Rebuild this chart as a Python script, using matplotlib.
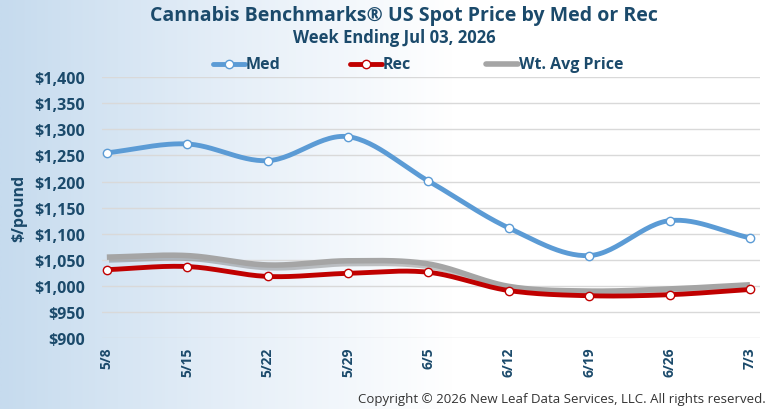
import numpy as np
import matplotlib
matplotlib.use("Agg")
import matplotlib.pyplot as plt
import matplotlib.patheffects as pe
from matplotlib.colors import LinearSegmentedColormap
from matplotlib.lines import Line2D

weeks = ["5/8", "5/15", "5/22", "5/29", "6/5", "6/12", "6/19", "6/26", "7/3"]
med = [1255, 1272, 1240, 1286, 1201, 1111, 1058, 1125, 1092]
rec = [1031, 1037, 1018, 1024, 1026, 991, 981, 983, 993]
wavg = [1055, 1058, 1040, 1048, 1042, 999, 990, 994, 1002]
yticks = [900, 950, 1000, 1050, 1100, 1150, 1200, 1250, 1300, 1350, 1400]
series_names = ["Med", "Rec", "Wt. Avg Price"]

NAVY = "#1b4a6b"
FONT = "Open Sans"
C_MED, C_REC, C_AVG = "#5b9bd5", "#c00000", "#a5a5a5"


def smooth(xs, ys, n=30):
    xs = np.asarray(xs, float)
    ys = np.asarray(ys, float)
    px = np.concatenate([[2 * xs[0] - xs[1]], xs, [2 * xs[-1] - xs[-2]]])
    py = np.concatenate([[2 * ys[0] - ys[1]], ys, [2 * ys[-1] - ys[-2]]])
    ox, oy = [], []
    t = np.linspace(0, 1, n, endpoint=False)

    def cr(a0, a1, a2, a3):
        return 0.5 * ((2 * a1) + (-a0 + a2) * t + (2 * a0 - 5 * a1 + 4 * a2 - a3) * t ** 2
                      + (-a0 + 3 * a1 - 3 * a2 + a3) * t ** 3)
    for i in range(1, len(px) - 2):
        ox.append(cr(px[i - 1], px[i], px[i + 1], px[i + 2]))
        oy.append(cr(py[i - 1], py[i], py[i + 1], py[i + 2]))
    ox.append([xs[-1]])
    oy.append([ys[-1]])
    return np.concatenate(ox), np.concatenate(oy)


fig = plt.figure(figsize=(7.8, 4.1), dpi=100)

# background gradient
bg = fig.add_axes([0, 0, 1, 1], zorder=-10)
cmap = LinearSegmentedColormap.from_list(
    "bg", [(0, "#c6dbee"), (0.3, "#e6eff8"), (0.58, "#ffffff"), (1, "#ffffff")])
grad = np.linspace(0, 1, 512)[None, :]
bg.imshow(grad, aspect="auto", cmap=cmap, extent=[0, 1, 0, 1], interpolation="bilinear")
bg.axis("off")

ax = fig.add_axes([0.1308, 0.1732, 0.843, 0.636])
ax.set_facecolor("none")
x = np.arange(len(weeks))

sx, sy = smooth(x, wavg)
ax.plot(sx, sy, color=C_AVG, lw=4.0, solid_capstyle="butt", zorder=3,
        path_effects=[pe.SimpleLineShadow(offset=(1.5, -2), shadow_color="#555555", alpha=0.35), pe.Normal()])
sx, sy = smooth(x, rec)
ax.plot(sx, sy, color=C_REC, lw=3.5, zorder=4, solid_capstyle="butt")
ax.plot(x, rec, ls="none", marker="o", ms=6, mfc="white", mec=C_REC, mew=1.0, zorder=5)
sx, sy = smooth(x, med)
ax.plot(sx, sy, color=C_MED, lw=3.5, zorder=4, solid_capstyle="butt")
ax.plot(x, med, ls="none", marker="o", ms=6, mfc="white", mec=C_MED, mew=1.0, zorder=5)

ax.set_ylim(900, 1400)
ax.set_xlim(-0.06, 8.12)
ax.set_yticks(yticks)
ax.set_yticklabels([f"${v:,}" for v in yticks], fontsize=11.5, fontweight="bold", color=NAVY, family=FONT)
ax.set_xticks(x)
ax.set_xticklabels(weeks, rotation=90, fontsize=10, fontweight="bold", color=NAVY, family=FONT)
ax.tick_params(axis="y", length=0, pad=12)
ax.tick_params(axis="x", length=0, pad=6)
ax.grid(axis="y", color="#d9d9d9", lw=1)
for s in ax.spines.values():
    s.set_visible(False)
ax.set_ylabel("$/pound", fontsize=11.5, fontweight="bold", color=NAVY, family=FONT)
ax.yaxis.set_label_coords(-0.113, 0.5)

fig.text(0.518, 0.962, "Cannabis Benchmarks® US Spot Price by Med or Rec", ha="center", va="center",
         fontsize=14, fontweight="bold", color=NAVY, family=FONT)
fig.text(0.505, 0.908, "Week Ending Jul 03, 2026", ha="center", va="center",
         fontsize=12, fontweight="bold", color=NAVY, family=FONT)

# manual legend
leg_y = 1 - 65 / 410
leg_x = [213, 350, 486]
colors = [C_MED, C_REC, C_AVG]
for i, (lx, name, c) in enumerate(zip(leg_x, series_names, colors)):
    x0, x1 = lx / 780, (lx + 32) / 780
    if i < 2:
        fig.add_artist(Line2D([x0, x1], [leg_y, leg_y], transform=fig.transFigure, color=c, lw=3.5,
                              solid_capstyle="round"))
        fig.add_artist(Line2D([(x0 + x1) / 2], [leg_y], transform=fig.transFigure, ls="none", marker="o",
                              ms=6, mfc="white", mec=c, mew=1.0))
    else:
        fig.add_artist(Line2D([x0, x1], [leg_y, leg_y], transform=fig.transFigure, color=c, lw=4,
                              solid_capstyle="round"))
    fig.text(x1 + 1 / 780, leg_y, name, ha="left", va="center", fontsize=11.5, fontweight="bold",
             color=NAVY, family=FONT)

fig.text(0.982, 0.025, "Copyright © 2026 New Leaf Data Services, LLC. All rights reserved.",
         ha="right", va="center", fontsize=9.5, color="#333333", family=FONT)

fig.savefig("out.png", dpi=100)
